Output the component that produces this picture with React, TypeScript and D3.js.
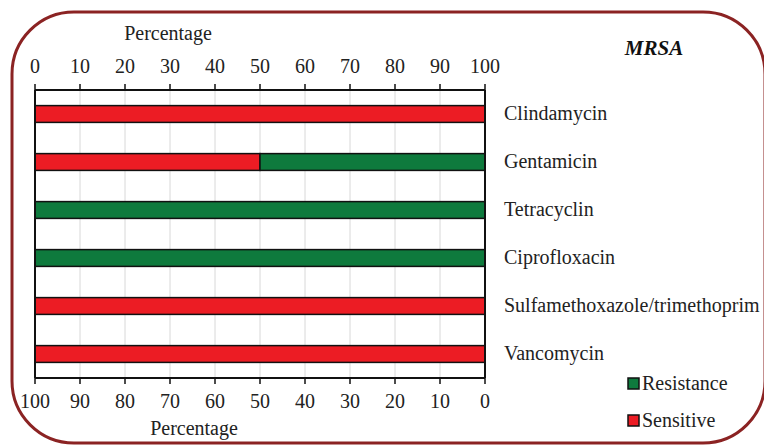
import React from "react";
import * as d3 from "d3";

const categories = ["Clindamycin", "Gentamicin", "Tetracyclin", "Ciprofloxacin", "Sulfamethoxazole/trimethoprim", "Vancomycin"];
const sensitive = [100, 50, 0, 0, 100, 100];
const resistance = [0, 50, 100, 100, 0, 0];
const ticks = [0, 10, 20, 30, 40, 50, 60, 70, 80, 90, 100];
const legendItems = ["Resistance", "Sensitive"];

const W = 764, H = 445;
const RED = "#ec1c24";
const GREEN = "#0e7a3d";
const TS = { fontFamily: "Liberation Serif" };

export default function App() {
  const left = 35, right = 485, top = 90, bottom = 378;
  const xTop = d3.scaleLinear().domain([0, 100]).range([left, right]);
  const xBot = d3.scaleLinear().domain([100, 0]).range([left, right]);
  const y = d3.scaleBand().domain(categories).range([top, bottom]).paddingInner(0.65).paddingOuter(0.325);
  const colors = [GREEN, RED];
  const fs = 20;

  return (
    <svg width={W} height={H} style={{ position: "absolute", left: 0, top: 0 }}>
      <rect x={0} y={0} width={W} height={H} fill="#fff" />
      <rect x={12} y={12} width={753} height={431} rx={62} ry={62} fill="none" stroke="#8b2323" strokeWidth={3} />
      {ticks.slice(1, -1).map((t) => (
        <line key={"g" + t} x1={xTop(t)} x2={xTop(t)} y1={top} y2={bottom} stroke="#d8d8d8" strokeWidth={1} />
      ))}
      {categories.map((c, i) => (
        <g key={c}>
          {sensitive[i] > 0 && (
            <rect x={xTop(0)} y={y(c)} width={xTop(sensitive[i]) - xTop(0)} height={y.bandwidth()} fill={RED} stroke="#111" strokeWidth={1.5} />
          )}
          {resistance[i] > 0 && (
            <rect x={xBot(resistance[i])} y={y(c)} width={xBot(0) - xBot(resistance[i])} height={y.bandwidth()} fill={GREEN} stroke="#111" strokeWidth={1.5} />
          )}
          <text x={504} y={(y(c) as number) + y.bandwidth() / 2 + 6} fontSize={fs} fill="#222" style={TS}>{c}</text>
        </g>
      ))}
      <line x1={left} x2={right} y1={top} y2={top} stroke="#111" strokeWidth={2} />
      <line x1={left} x2={right} y1={bottom} y2={bottom} stroke="#111" strokeWidth={2} />
      <line x1={left} x2={left} y1={top} y2={bottom} stroke="#111" strokeWidth={2} />
      <line x1={right} x2={right} y1={top} y2={bottom} stroke="#111" strokeWidth={2} />
      {ticks.map((t) => (
        <g key={"t" + t}>
          <line x1={xTop(t)} x2={xTop(t)} y1={top - 6} y2={top} stroke="#111" strokeWidth={1.5} />
          <text x={xTop(t)} y={73} textAnchor="middle" fontSize={fs} fill="#222" style={TS}>{t}</text>
          <line x1={xBot(t)} x2={xBot(t)} y1={bottom} y2={bottom + 6} stroke="#111" strokeWidth={1.5} />
          <text x={xBot(t)} y={408} textAnchor="middle" fontSize={fs} fill="#222" style={TS}>{t}</text>
        </g>
      ))}
      <text x={168} y={40} textAnchor="middle" fontSize={fs} fill="#222" style={TS}>Percentage</text>
      <text x={194} y={435} textAnchor="middle" fontSize={fs} fill="#222" style={TS}>Percentage</text>
      <text x={654} y={55} textAnchor="middle" fontSize={21} fontWeight="bold" fontStyle="italic" fill="#111" style={TS}>MRSA</text>
      {legendItems.map((l, i) => (
        <g key={l}>
          <rect x={628} y={378 + i * 37} width={11} height={11} fill={colors[i]} stroke="#111" strokeWidth={1.5} />
          <text x={642} y={390 + i * 37} fontSize={fs} fill="#222" style={TS}>{l}</text>
        </g>
      ))}
    </svg>
  );
}
